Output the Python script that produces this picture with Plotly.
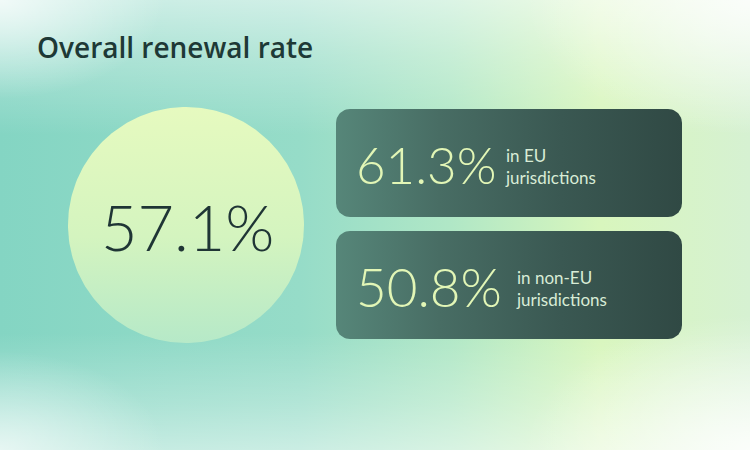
import base64
import numpy as np
import plotly.graph_objects as go

# ---- data ----
title = "Overall renewal rate"
overall_rate = 57.1
group_values = [61.3, 50.8]
group_labels = ["in EU", "in non-EU"]
group_sublabels = ["jurisdictions", "jurisdictions"]

W, H = 750, 450

# ---- background (decorative gradient) ----
svg = f"""<svg xmlns='http://www.w3.org/2000/svg' width='{W}' height='{H}' viewBox='0 0 {W} {H}' preserveAspectRatio='none'>
<defs>
<linearGradient id='b' x1='0' y1='0' x2='1' y2='0'>
<stop offset='0' stop-color='#84d5c3'/>
<stop offset='0.40' stop-color='#96dcc8'/>
<stop offset='0.60' stop-color='#b0e7c6'/>
<stop offset='0.80' stop-color='#d8f6bd'/>
<stop offset='1' stop-color='#d6f1d2'/>
</linearGradient>
<linearGradient id='t' x1='0' y1='0' x2='0' y2='1'>
<stop offset='0' stop-color='#ffffff' stop-opacity='0.55'/>
<stop offset='0.12' stop-color='#ffffff' stop-opacity='0.30'/>
<stop offset='0.30' stop-color='#ffffff' stop-opacity='0'/>
<stop offset='0.74' stop-color='#ffffff' stop-opacity='0'/>
<stop offset='0.90' stop-color='#ffffff' stop-opacity='0.28'/>
<stop offset='1' stop-color='#ffffff' stop-opacity='0.50'/>
</linearGradient>
<radialGradient id='c1' cx='0' cy='0' r='0.22'>
<stop offset='0' stop-color='#ffffff' stop-opacity='0.75'/>
<stop offset='1' stop-color='#ffffff' stop-opacity='0'/>
</radialGradient>
<radialGradient id='c2' cx='1' cy='0' r='0.30'>
<stop offset='0' stop-color='#ffffff' stop-opacity='0.75'/>
<stop offset='1' stop-color='#ffffff' stop-opacity='0'/>
</radialGradient>
<radialGradient id='c3' cx='0' cy='1' r='0.22'>
<stop offset='0' stop-color='#ffffff' stop-opacity='0.6'/>
<stop offset='1' stop-color='#ffffff' stop-opacity='0'/>
</radialGradient>
<radialGradient id='c4' cx='1' cy='1' r='0.30'>
<stop offset='0' stop-color='#ffffff' stop-opacity='0.8'/>
<stop offset='1' stop-color='#ffffff' stop-opacity='0'/>
</radialGradient>
</defs>
<rect width='{W}' height='{H}' fill='url(#b)'/>
<rect width='{W}' height='{H}' fill='url(#t)'/>
<rect width='{W}' height='{H}' fill='url(#c1)'/>
<rect width='{W}' height='{H}' fill='url(#c2)'/>
<rect width='{W}' height='{H}' fill='url(#c3)'/>
<rect width='{W}' height='{H}' fill='url(#c4)'/>
</svg>"""
bg_uri = "data:image/svg+xml;base64," + base64.b64encode(svg.encode()).decode()

fig = go.Figure()

# ---- circle ----
cx, cy, r = 186, 225, 118
th = np.linspace(0, 2 * np.pi, 241)
fig.add_trace(go.Scatter(
    x=cx + r * np.cos(th), y=cy + r * np.sin(th),
    mode="lines", line=dict(width=0), fill="toself",
    fillgradient=dict(type="vertical", start=cy - r, stop=cy + r,
                      colorscale=[[0, "#e6fabf"], [0.55, "#d4f4bf"], [1, "#b6e9c8"]]),
    hoverinfo="skip", showlegend=False))

# ---- cards ----
def rounded_rect(x0, y0, x1, y1, rad, n=12):
    xs, ys = [], []
    corners = [(x1 - rad, y0 + rad, -np.pi / 2, 0),
               (x1 - rad, y1 - rad, 0, np.pi / 2),
               (x0 + rad, y1 - rad, np.pi / 2, np.pi),
               (x0 + rad, y0 + rad, np.pi, 1.5 * np.pi)]
    for ccx, ccy, a0, a1 in corners:
        a = np.linspace(a0, a1, n)
        xs += list(ccx + rad * np.cos(a))
        ys += list(ccy + rad * np.sin(a))
    xs.append(xs[0]); ys.append(ys[0])
    return xs, ys

cards = [(336, 109, 682, 217), (336, 231, 682, 339)]
for (x0, y0, x1, y1) in cards:
    xs, ys = rounded_rect(x0, y0, x1, y1, 14)
    fig.add_trace(go.Scatter(
        x=xs, y=ys, mode="lines", line=dict(width=0), fill="toself",
        fillgradient=dict(type="horizontal", start=x0, stop=x1,
                          colorscale=[[0, "#568679"], [0.3, "#486d64"], [0.65, "#3a5852"], [1, "#304944"]]),
        hoverinfo="skip", showlegend=False))

# ---- text ----
ann = []
ann.append(dict(x=35, y=47, text=title, xanchor="left", yanchor="middle", showarrow=False,
                font=dict(family="Open Sans", size=28, color="#1e3936", weight=600)))
ann.append(dict(x=cx + 1, y=cy + 1, text=f"{overall_rate:.1f}%", xanchor="center", yanchor="middle",
                showarrow=False, font=dict(family="Lato", size=63, color="#1f3535", weight=300)))
sub_x = [503, 514]
num_size = [51, 53]
for i, ((x0, y0, x1, y1), v) in enumerate(zip(cards, group_values)):
    ymid = (y0 + y1) / 2
    ann.append(dict(x=354, y=ymid + 1, text=f"{v:.1f}%", xanchor="left", yanchor="middle",
                    showarrow=False, font=dict(family="Lato", size=num_size[i], color="#e2f6b6", weight=300)))
    ann.append(dict(x=sub_x[i], y=ymid + 3, text=f"{group_labels[i]}<br>{group_sublabels[i]}",
                    xanchor="left", yanchor="middle", align="left", showarrow=False,
                    font=dict(family="Lato", size=17, color="#d8ecd6", weight=400)))

fig.update_layout(
    width=W, height=H, autosize=False,
    margin=dict(l=0, r=0, t=0, b=0),
    paper_bgcolor="#a8e3c8", plot_bgcolor="rgba(0,0,0,0)",
    xaxis=dict(range=[0, W], visible=False, fixedrange=True),
    yaxis=dict(range=[H, 0], visible=False, fixedrange=True),
    images=[dict(source=bg_uri, xref="paper", yref="paper", x=0, y=1, sizex=1, sizey=1,
                 sizing="stretch", layer="below", xanchor="left", yanchor="top")],
    annotations=ann,
    showlegend=False,
)

fig.write_html("out.html", config={"displayModeBar": False},
               post_script="document.body.style.margin='0';document.body.style.overflow='hidden';")
